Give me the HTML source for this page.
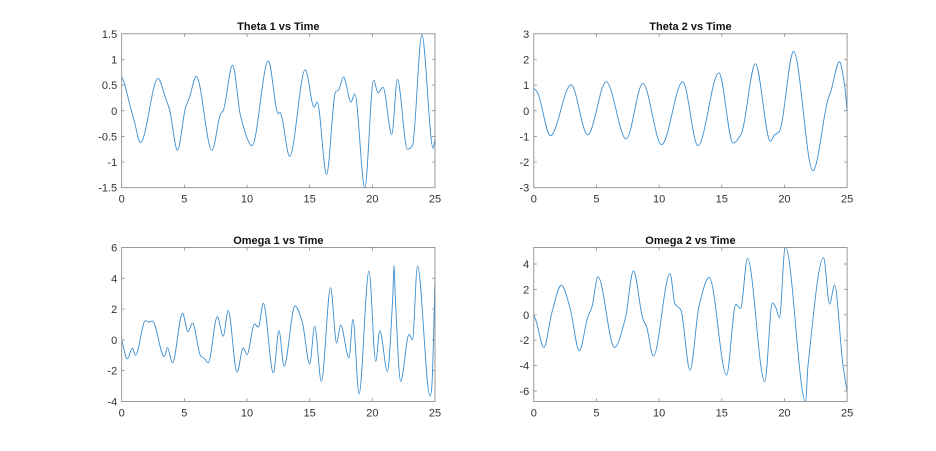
<!DOCTYPE html>
<html><head><meta charset="utf-8">
<style>html,body{margin:0;padding:0;background:#fff;}svg{display:block}</style>
</head>
<body>
<svg width="936" height="451" viewBox="0 0 936 451" xmlns="http://www.w3.org/2000/svg" font-family="'Liberation Sans', Arial, sans-serif">
<rect width="936" height="451" fill="#fff"/>
<defs>
<clipPath id="c1"><rect x="121.7" y="33.8" width="313.3" height="153.9"/></clipPath>
<clipPath id="c2"><rect x="533.8" y="33.8" width="313.3" height="153.9"/></clipPath>
<clipPath id="c3"><rect x="121.7" y="247.5" width="313.3" height="153.9"/></clipPath>
<clipPath id="c4"><rect x="533.8" y="247.5" width="313.3" height="153.9"/></clipPath>
</defs>

<g stroke="#808080" stroke-width="0.7" fill="none">
<path d="M184.36 187.7V184.6M247.02 187.7V184.6M309.68 187.7V184.6M372.34 187.7V184.6M184.36 33.8V36.9M247.02 33.8V36.9M309.68 33.8V36.9M372.34 33.8V36.9M121.7 162.05H124.8M121.7 136.4H124.8M121.7 110.75H124.8M121.7 85.1H124.8M121.7 59.45H124.8M435 162.05H431.9M435 136.4H431.9M435 110.75H431.9M435 85.1H431.9M435 59.45H431.9"/>
<path d="M596.46 187.7V184.6M659.12 187.7V184.6M721.78 187.7V184.6M784.44 187.7V184.6M596.46 33.8V36.9M659.12 33.8V36.9M721.78 33.8V36.9M784.44 33.8V36.9M533.8 162.05H536.9M533.8 136.4H536.9M533.8 110.75H536.9M533.8 85.1H536.9M533.8 59.45H536.9M847.1 162.05H844M847.1 136.4H844M847.1 110.75H844M847.1 85.1H844M847.1 59.45H844"/>
<path d="M184.36 401.4V398.3M247.02 401.4V398.3M309.68 401.4V398.3M372.34 401.4V398.3M184.36 247.5V250.6M247.02 247.5V250.6M309.68 247.5V250.6M372.34 247.5V250.6M121.7 370.62H124.8M121.7 339.84H124.8M121.7 309.06H124.8M121.7 278.28H124.8M435 370.62H431.9M435 339.84H431.9M435 309.06H431.9M435 278.28H431.9"/>
<path d="M596.46 401.4V398.3M659.12 401.4V398.3M721.78 401.4V398.3M784.44 401.4V398.3M596.46 247.5V250.6M659.12 247.5V250.6M721.78 247.5V250.6M784.44 247.5V250.6M533.8 390.99H536.9M533.8 365.6H536.9M533.8 340.2H536.9M533.8 314.8H536.9M533.8 289.4H536.9M533.8 264H536.9M847.1 390.99H844M847.1 365.6H844M847.1 340.2H844M847.1 314.8H844M847.1 289.4H844M847.1 264H844"/>
</g>

<g fill="none" stroke="#3a8ed0" stroke-width="0.9" stroke-linejoin="round">
<path clip-path="url(#c1)" d="M121.7 76.89 C122.54 78.56 123.37 79.85 124.21 82.53 C126.3 89.21 128.38 99.86 130.47 107.16 C131.72 111.55 132.98 116.62 134.23 121.01 C136.32 128.33 138.41 142.56 140.5 142.56 C146.35 142.56 152.19 78.43 158.04 78.43 C160.55 78.43 163.05 91.16 165.56 97.93 C166.81 101.31 168.07 104.94 169.32 108.7 C172.04 116.85 174.75 150.25 177.47 150.25 C180.18 150.25 182.9 115.84 185.61 107.16 C186.86 103.15 188.12 101.44 189.37 97.93 C191.67 91.49 193.97 76.38 196.27 76.38 C201.49 76.38 206.71 150.25 211.93 150.25 C214.85 150.25 217.78 119.09 220.7 113.83 C221.54 112.32 222.37 112.42 223.21 110.75 C226.34 104.48 229.48 65.09 232.61 65.09 C235.32 65.09 238.04 107.41 240.75 116.91 C244.51 130.07 248.27 145.63 252.03 145.63 C257.46 145.63 262.89 60.99 268.32 60.99 C271.66 60.99 275.01 113.83 278.35 113.83 C278.85 113.83 279.35 112.29 279.85 112.29 C280.39 112.29 280.93 114.26 281.47 115.88 C284.19 124.04 286.91 156.41 289.63 156.41 C294.85 156.41 300.07 69.71 305.29 69.71 C308.21 69.71 311.14 107.16 314.06 107.16 C315.1 107.16 316.15 102.03 317.19 102.03 C320.33 102.03 323.46 174.36 326.6 174.36 C329.61 174.36 332.61 94.78 335.62 91.77 C336.58 90.81 337.54 91.19 338.5 90.23 C340.17 88.56 341.85 76.89 343.52 76.89 C346.03 76.89 348.53 102.03 351.04 102.03 C352.29 102.03 353.55 93.82 354.8 93.82 C358.14 93.82 361.48 187.7 364.82 187.7 C367.74 187.7 370.67 79.97 373.59 79.97 C375.05 79.97 376.52 92.8 377.98 92.8 C379.65 92.8 381.32 87.15 382.99 87.15 C385.91 87.15 388.84 134.35 391.76 134.35 C393.64 134.35 395.52 79.46 397.4 79.46 C400.74 79.46 404.09 149.23 407.43 149.23 C409.1 149.23 410.77 148.13 412.44 145.63 C415.57 140.93 418.71 34.82 421.84 34.82 C425.6 34.82 429.36 148.2 433.12 148.2 C433.75 148.2 434.37 142.04 435 138.97"/>
<path clip-path="url(#c2)" d="M533.8 88.18 C535.05 89.18 536.31 90.54 537.56 92.8 C541.86 100.55 546.17 135.63 550.47 135.63 C557.32 135.63 564.17 84.84 571.02 84.84 C576.58 84.84 582.13 134.86 587.69 134.86 C593.87 134.86 600.05 81.77 606.23 81.77 C612.87 81.77 619.52 138.97 626.16 138.97 C631.72 138.97 637.27 83.56 642.83 83.56 C649.1 83.56 655.36 144.61 661.63 144.61 C668.65 144.61 675.66 81.77 682.68 81.77 C687.78 81.77 692.87 145.63 697.97 145.63 C704.95 145.63 711.92 72.79 718.9 72.79 C723.62 72.79 728.34 143.07 733.06 143.07 C735.86 143.07 738.65 138.63 741.45 133.32 C746.09 124.5 750.73 63.81 755.37 63.81 C760.38 63.81 765.4 141.27 770.41 141.27 C771.74 141.27 773.08 136.45 774.41 135.12 C776.08 133.45 777.76 133.61 779.43 131.27 C784.15 124.66 788.87 51.5 793.59 51.5 C800.02 51.5 806.46 170.77 812.89 170.77 C817.86 170.77 822.83 117.38 827.8 99.98 C828.8 96.47 829.81 94.62 830.81 91.51 C833.69 82.57 836.58 61.76 839.46 61.76 C841.17 61.76 842.89 74.31 844.6 85.1 C845.43 90.35 846.27 102.42 847.1 110.75"/>
<path clip-path="url(#c3)" d="M121.7 339.84 C123.58 346.42 125.46 358.92 127.34 358.92 C129.01 358.92 130.68 348.15 132.35 348.15 C133.4 348.15 134.44 355.23 135.49 355.23 C138.83 355.23 142.17 320.6 145.51 320.6 C146.55 320.6 147.6 322.14 148.64 322.14 C149.89 322.14 151.15 321.06 152.4 321.06 C156.37 321.06 160.34 356.77 164.31 356.77 C165.35 356.77 166.4 347.54 167.44 347.54 C169.11 347.54 170.78 362.93 172.45 362.93 C175.79 362.93 179.14 313.37 182.48 313.37 C184.36 313.37 186.24 331.84 188.12 331.84 C189.58 331.84 191.05 322.91 192.51 322.91 C195.22 322.91 197.94 352.74 200.65 356 C201.9 357.5 203.16 357.18 204.41 358.31 C205.66 359.44 206.92 362.93 208.17 362.93 C211.22 362.93 214.27 316.76 217.32 316.76 C219.28 316.76 221.25 336.15 223.21 336.15 C224.88 336.15 226.55 310.6 228.22 310.6 C231.14 310.6 234.07 372.16 236.99 372.16 C239.08 372.16 241.17 347.84 243.26 347.84 C244.51 347.84 245.77 354.61 247.02 354.61 C249.53 354.61 252.03 323.83 254.54 323.83 C255.79 323.83 257.05 327.07 258.3 327.07 C259.97 327.07 261.64 303.37 263.31 303.37 C266.65 303.37 270 372.93 273.34 372.93 C275.22 372.93 277.1 330.61 278.98 330.61 C280.65 330.61 282.32 366.31 283.99 366.31 C287.67 366.31 291.34 305.98 295.02 305.98 C297.4 305.98 299.78 314.23 302.16 321.37 C304.67 328.89 307.17 364 309.68 364 C311.35 364 313.02 326.14 314.69 326.14 C316.91 326.14 319.12 381.39 321.34 381.39 C324.43 381.39 327.52 287.67 330.61 287.67 C332.61 287.67 334.62 342.92 336.62 342.92 C337.96 342.92 339.29 325.07 340.63 325.07 C343.43 325.07 346.23 357.85 349.03 357.85 C350.33 357.85 351.62 319.37 352.92 319.37 C354.97 319.37 357.01 394.01 359.06 394.01 C362.36 394.01 365.66 270.89 368.96 270.89 C371.21 270.89 373.47 361.39 375.72 361.39 C377.1 361.39 378.48 330.61 379.86 330.61 C382.37 330.61 384.87 371.39 387.38 371.39 C389.18 371.39 390.97 329.1 392.77 296.75 C393.19 289.24 393.6 265.2 394.02 265.2 C394.44 265.2 394.85 288.83 395.27 296.75 C397.07 330.89 398.86 381.39 400.66 381.39 C403.46 381.39 406.26 334.45 409.06 334.45 C410.19 334.45 411.31 339.84 412.44 339.84 C414.11 339.84 415.79 265.97 417.46 265.97 C421.64 265.97 425.81 396.32 429.99 396.32 C430.62 396.32 431.24 393.53 431.87 386.01 C432.91 373.49 433.96 315.78 435 281.36"/>
<path clip-path="url(#c4)" d="M533.8 314.8 C534.64 316.89 535.47 319.27 536.31 321.78 C538.82 329.3 541.32 347.43 543.83 347.43 C546.59 347.43 549.34 321.12 552.1 311.75 C555.19 301.24 558.28 285.09 561.37 285.09 C564.29 285.09 567.22 298.51 570.14 308.45 C573.19 318.82 576.24 350.74 579.29 350.74 C582.09 350.74 584.89 325.74 587.69 317.34 C589.11 313.08 590.53 311.49 591.95 306.8 C593.95 300.19 595.96 276.83 597.96 276.83 C603.47 276.83 608.99 347.43 614.5 347.43 C618.09 347.43 621.69 331.9 625.28 318.61 C628 308.56 630.71 270.86 633.43 270.86 C636.56 270.86 639.7 309.21 642.83 318.61 C644.08 322.37 645.34 323.23 646.59 326.86 C648.84 333.39 651.1 356.07 653.35 356.07 C658.91 356.07 664.46 273.53 670.02 273.53 C671.69 273.53 673.37 301.12 675.04 304.13 C677 307.66 678.97 306.17 680.93 310.1 C683.94 316.11 686.94 370.16 689.95 370.16 C693.04 370.16 696.13 317.51 699.22 305.15 C702.56 291.78 705.91 277.47 709.25 277.47 C715.01 277.47 720.78 375.12 726.54 375.12 C729.63 375.12 732.73 304.51 735.82 304.51 C737.41 304.51 738.99 308.45 740.58 308.45 C742.88 308.45 745.17 258.42 747.47 258.42 C753.23 258.42 758.99 381.85 764.75 381.85 C767.3 381.85 769.85 302.86 772.4 302.86 C773.49 302.86 774.57 305.22 775.66 307.18 C776.92 309.44 778.17 317.85 779.43 317.85 C781.39 317.85 783.36 246.23 785.32 246.23 C792.13 246.23 798.93 402.42 805.74 402.42 C806.45 402.42 807.16 373.25 807.87 366.86 C813.09 319.91 818.3 257.53 823.52 257.53 C825.53 257.53 827.53 304.13 829.54 304.13 C831.22 304.13 832.89 285.09 834.57 285.09 C837.28 285.09 840 341.89 842.71 363.05 C844.17 374.46 845.64 382.24 847.1 391.75"/>
</g>

<g fill="none" stroke="#808080" stroke-width="0.8">
<rect x="121.7" y="33.8" width="313.3" height="153.9"/>
<rect x="533.8" y="33.8" width="313.3" height="153.9"/>
<rect x="121.7" y="247.5" width="313.3" height="153.9"/>
<rect x="533.8" y="247.5" width="313.3" height="153.9"/>
</g>

<g font-size="11" font-weight="bold" fill="#111" text-anchor="middle">
<text x="278.35" y="29.8">Theta 1 vs Time</text>
<text x="690.45" y="29.8">Theta 2 vs Time</text>
<text x="278.35" y="244.2">Omega 1 vs Time</text>
<text x="690.45" y="244.2">Omega 2 vs Time</text>
</g>

<g font-size="11" fill="#333" text-anchor="middle">
<text x="121.7" y="202.7">0</text><text x="184.36" y="202.7">5</text><text x="247.02" y="202.7">10</text><text x="309.68" y="202.7">15</text><text x="372.34" y="202.7">20</text><text x="435" y="202.7">25</text>
<text x="533.8" y="202.7">0</text><text x="596.46" y="202.7">5</text><text x="659.12" y="202.7">10</text><text x="721.78" y="202.7">15</text><text x="784.44" y="202.7">20</text><text x="847.1" y="202.7">25</text>
<text x="121.7" y="416.7">0</text><text x="184.36" y="416.7">5</text><text x="247.02" y="416.7">10</text><text x="309.68" y="416.7">15</text><text x="372.34" y="416.7">20</text><text x="435" y="416.7">25</text>
<text x="533.8" y="416.7">0</text><text x="596.46" y="416.7">5</text><text x="659.12" y="416.7">10</text><text x="721.78" y="416.7">15</text><text x="784.44" y="416.7">20</text><text x="847.1" y="416.7">25</text>
</g>

<g font-size="11" fill="#333" text-anchor="end">
<text x="117.2" y="191.7">-1.5</text><text x="117.2" y="166.05">-1</text><text x="117.2" y="140.4">-0.5</text><text x="117.2" y="114.75">0</text><text x="117.2" y="89.1">0.5</text><text x="117.2" y="63.45">1</text><text x="117.2" y="37.8">1.5</text>
<text x="529.3" y="191.7">-3</text><text x="529.3" y="166.05">-2</text><text x="529.3" y="140.4">-1</text><text x="529.3" y="114.75">0</text><text x="529.3" y="89.1">1</text><text x="529.3" y="63.45">2</text><text x="529.3" y="37.8">3</text>
<text x="117.2" y="405.4">-4</text><text x="117.2" y="374.62">-2</text><text x="117.2" y="343.84">0</text><text x="117.2" y="313.06">2</text><text x="117.2" y="282.28">4</text><text x="117.2" y="251.5">6</text>
<text x="529.3" y="394.99">-6</text><text x="529.3" y="369.6">-4</text><text x="529.3" y="344.2">-2</text><text x="529.3" y="318.8">0</text><text x="529.3" y="293.4">2</text><text x="529.3" y="268">4</text>
</g>
</svg>
</body></html>
